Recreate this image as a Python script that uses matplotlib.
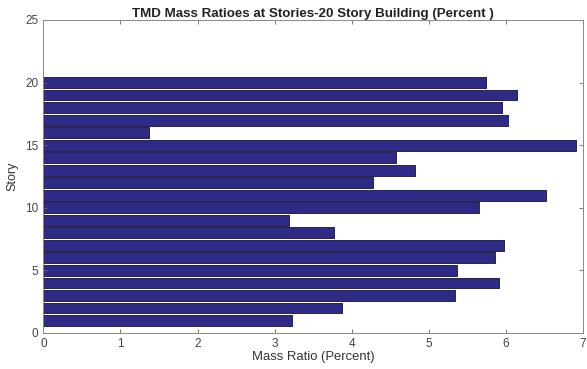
import matplotlib.pyplot as plt
import numpy as np

plt.rcParams["font.family"] = ["Liberation Sans", "DejaVu Sans"]

# Story number and TMD mass ratio (percent)
stories = list(range(1, 21))
mass_ratio = [
    3.23, 3.88, 5.34, 5.91, 5.37,
    5.86, 5.97, 3.77, 3.19, 5.65,
    6.52, 4.28, 4.82, 4.58, 6.91,
    1.37, 6.03, 5.95, 6.14, 5.74,
]

x_ticks = np.arange(0, 8, 1)
y_ticks = np.arange(0, 30, 5)

fig = plt.figure(figsize=(5.87, 3.69), dpi=100)
ax = fig.add_axes([0.0738, 0.0976, 0.9194, 0.8482])

ax.barh(stories, mass_ratio, height=0.86, color="#2f2a86",
        edgecolor="#121235", linewidth=0.6)

ax.set_xlim(0, 7)
ax.set_ylim(0, 25)
ax.set_xticks(x_ticks)
ax.set_yticks(y_ticks)

ax.tick_params(direction="in", top=True, right=True, length=3,
               width=0.6, colors="#666666", labelcolor="#444444",
               labelsize=8.5)
for s in ax.spines.values():
    s.set_color("#888888")
    s.set_linewidth(0.7)

ax.set_xlabel("Mass Ratio (Percent)", fontsize=9.4, color="#333333", labelpad=1)
ax.set_ylabel("Story", fontsize=9, color="#333333", labelpad=5)
ax.set_title("TMD Mass Ratioes at Stories-20 Story Building (Percent )",
             fontsize=9.6, fontweight="bold", color="#222222", pad=2)

fig.savefig("out.png", dpi=100)
